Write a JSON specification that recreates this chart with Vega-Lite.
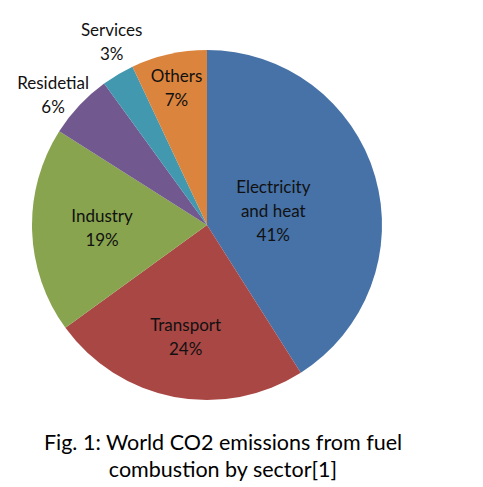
{
  "$schema": "https://vega.github.io/schema/vega-lite/v6.json",
  "width": 350,
  "height": 350,
  "padding": {"left": 32, "top": 50, "right": 101, "bottom": 87},
  "autosize": {"type": "none"},
  "background": "white",
  "config": {"view": {"stroke": null}, "font": "Lato"},
  "title": {
    "text": ["Fig. 1: World CO2 emissions from fuel", "combustion by sector[1]"],
    "orient": "bottom",
    "anchor": "middle",
    "dx": 16,
    "offset": -4,
    "fontSize": 21.5,
    "fontWeight": "normal",
    "font": "Lato",
    "color": "black",
    "lineHeight": 27
  },
  "data": {
    "values": [
      {"idx": 1, "sector": "Electricity and heat", "value": 41, "label": "Electricity\nand heat\n41%"},
      {"idx": 2, "sector": "Transport", "value": 24, "label": "Transport\n24%"},
      {"idx": 3, "sector": "Industry", "value": 19, "label": "Industry\n19%"},
      {"idx": 4, "sector": "Residetial", "value": 6, "label": "Residetial\n6%"},
      {"idx": 5, "sector": "Services", "value": 3, "label": "Services\n3%"},
      {"idx": 6, "sector": "Others", "value": 7, "label": "Others\n7%"}
    ]
  },
  "encoding": {
    "theta": {"field": "value", "type": "quantitative", "stack": true},
    "order": {"field": "idx", "type": "quantitative"}
  },
  "layer": [
    {
      "mark": {"type": "arc", "outerRadius": 175},
      "encoding": {
        "color": {
          "field": "sector",
          "type": "nominal",
          "legend": null,
          "scale": {
            "domain": ["Electricity and heat", "Transport", "Industry", "Residetial", "Services", "Others"],
            "range": ["#4672A8", "#A94745", "#88A44E", "#71588F", "#4198AF", "#DB843D"]
          }
        }
      }
    },
    {
      "mark": {"type": "text", "radius": 69, "dy": -18, "fontSize": 17, "lineBreak": "\n", "lineHeight": 24, "fill": "#111111", "baseline": "middle", "align": "center"},
      "encoding": {
        "detail": {"field": "sector"},
        "text": {"condition": {"test": "datum.sector === 'Electricity and heat'", "field": "label"}, "value": ""}
      }
    },
    {
      "mark": {"type": "text", "radius": 114, "dy": -11, "fontSize": 17, "lineBreak": "\n", "lineHeight": 24, "fill": "#111111", "baseline": "middle", "align": "center"},
      "encoding": {
        "detail": {"field": "sector"},
        "text": {"condition": {"test": "datum.sector === 'Transport'", "field": "label"}, "value": ""}
      }
    },
    {
      "mark": {"type": "text", "radius": 105, "dy": -11, "fontSize": 17, "lineBreak": "\n", "lineHeight": 24, "fill": "#111111", "baseline": "middle", "align": "center"},
      "encoding": {
        "detail": {"field": "sector"},
        "text": {"condition": {"test": "datum.sector === 'Industry'", "field": "label"}, "value": ""}
      }
    },
    {
      "mark": {"type": "text", "radius": 140, "dy": -11, "fontSize": 17, "lineBreak": "\n", "lineHeight": 24, "fill": "#111111", "baseline": "middle", "align": "center"},
      "encoding": {
        "detail": {"field": "sector"},
        "text": {"condition": {"test": "datum.sector === 'Others'", "field": "label"}, "value": ""}
      }
    },
    {
      "mark": {"type": "text", "radius": 207, "dx": 10, "dy": -16, "fontSize": 17, "lineBreak": "\n", "lineHeight": 24, "fill": "#111111", "baseline": "middle", "align": "center"},
      "encoding": {
        "detail": {"field": "sector"},
        "text": {"condition": {"test": "datum.sector === 'Services'", "field": "label"}, "value": ""}
      }
    },
    {
      "mark": {"type": "text", "radius": 207, "dx": -3, "dy": 1, "fontSize": 17, "lineBreak": "\n", "lineHeight": 24, "fill": "#111111", "baseline": "middle", "align": "center"},
      "encoding": {
        "detail": {"field": "sector"},
        "text": {"condition": {"test": "datum.sector === 'Residetial'", "field": "label"}, "value": ""}
      }
    }
  ]
}
